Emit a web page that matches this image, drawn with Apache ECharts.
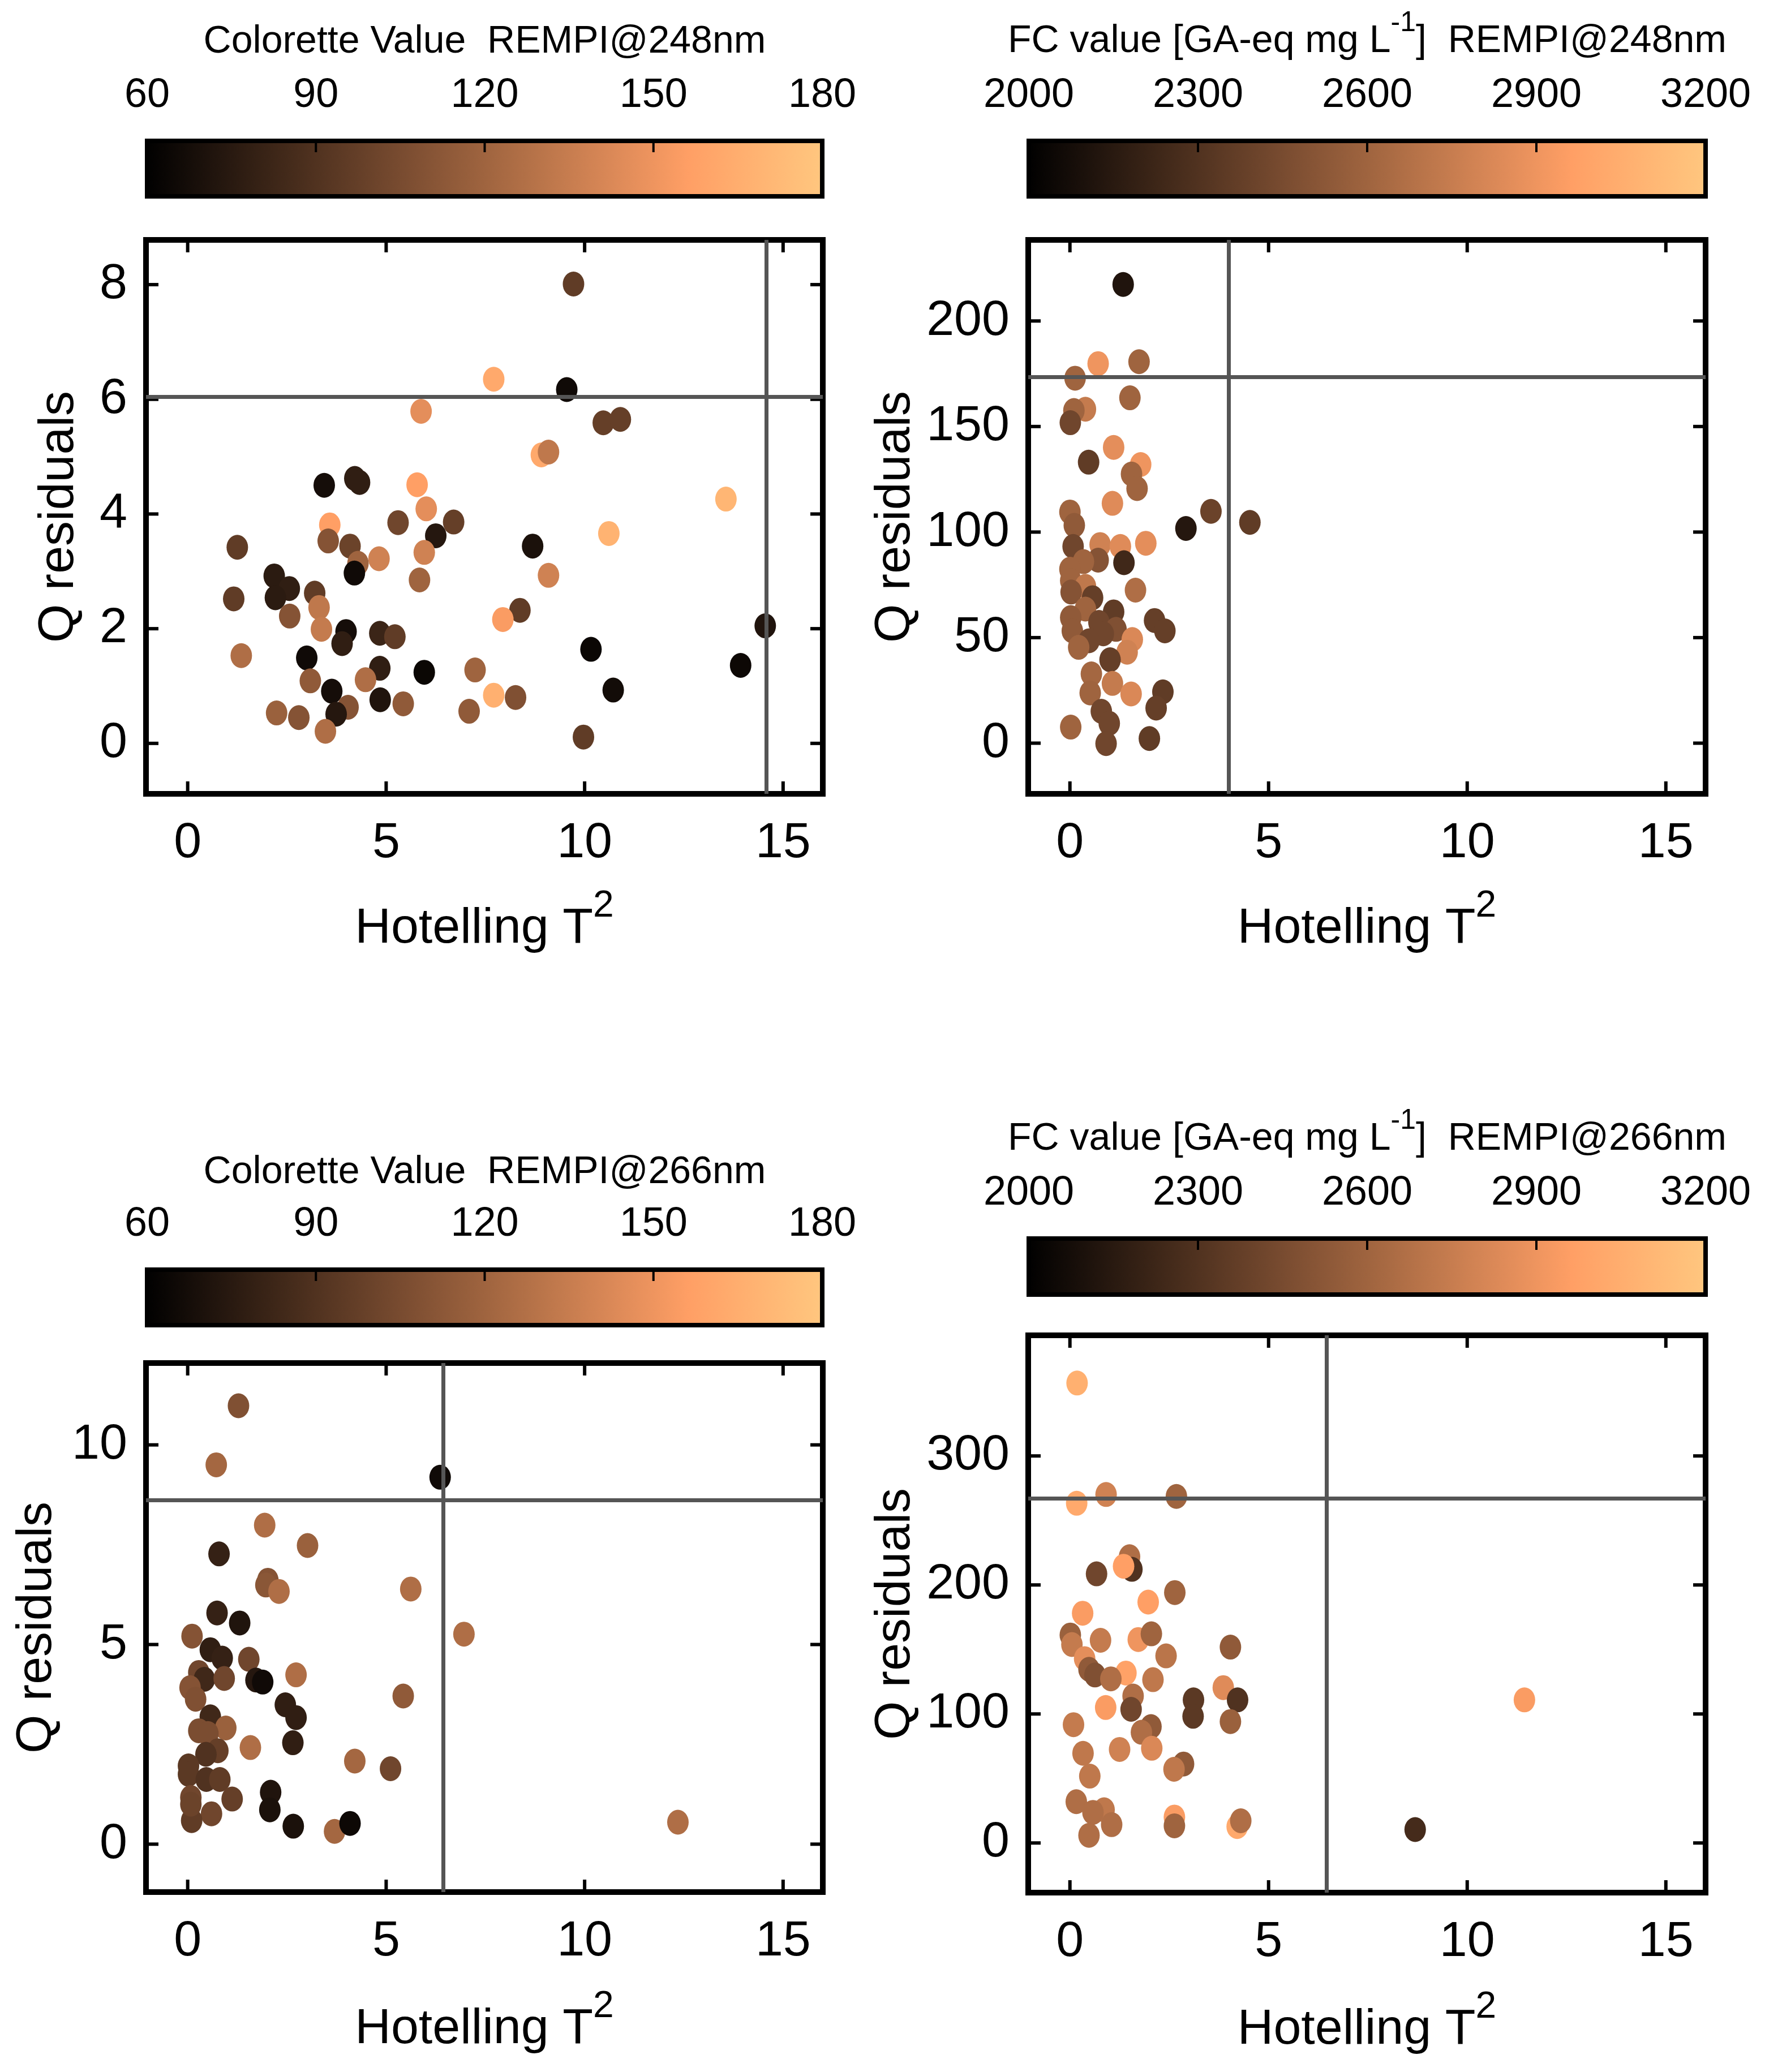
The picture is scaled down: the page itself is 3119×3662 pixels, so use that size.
<!DOCTYPE html>
<html>
<head>
<meta charset="utf-8">
<title>Hotelling T2 vs Q residuals</title>
<script src="https://cdn.jsdelivr.net/npm/echarts@6/dist/echarts.min.js"></script>
<style>
  html, body { margin: 0; padding: 0; background: #fff; }
  #main { width: 3119px; height: 3662px; }
</style>
</head>
<body>
<div id="main"></div>
<script>
// Colorette value, REMPI@248nm
const colT2_248 = [9.72, 7.71, 9.55, 5.88, 10.47, 10.9, 8.91, 9.09, 3.44, 4.21, 4.33, 5.78, 13.56, 6.01, 3.58, 5.3, 6.7, 6.25, 10.61, 1.25, 3.54, 4.09, 8.69, 5.96, 4.82, 4.29, 4.2, 9.09, 2.18, 2.56, 5.84, 1.16, 2.21, 3.2, 3.31, 2.57, 8.37, 7.94, 3.37, 3.99, 3.89, 4.84, 5.22, 14.55, 1.35, 3.0, 10.16, 13.93, 4.84, 5.96, 7.24, 3.09, 4.48, 3.63, 4.85, 7.71, 8.26, 10.72, 2.24, 2.8, 4.04, 3.74, 5.43, 7.09, 3.47, 9.97];
const colQ_248 = [8.01, 6.35, 6.17, 5.79, 5.59, 5.65, 5.03, 5.08, 4.5, 4.62, 4.55, 4.51, 4.26, 4.09, 3.81, 3.85, 3.86, 3.62, 3.66, 3.42, 3.53, 3.44, 3.44, 3.33, 3.22, 3.14, 2.97, 2.93, 2.92, 2.7, 2.85, 2.52, 2.54, 2.62, 2.37, 2.22, 2.32, 2.16, 1.99, 1.95, 1.74, 1.92, 1.86, 2.05, 1.53, 1.49, 1.64, 1.36, 1.31, 1.24, 1.28, 1.09, 1.11, 0.91, 0.76, 0.84, 0.8, 0.93, 0.53, 0.45, 0.63, 0.51, 0.69, 0.56, 0.21, 0.11];
const colVal_248 = [96, 162, 66, 146, 98, 98, 162, 132, 68, 78, 78, 156, 170, 146, 156, 102, 98, 74, 168, 96, 110, 100, 70, 138, 138, 120, 66, 138, 76, 78, 120, 96, 76, 96, 132, 110, 96, 154, 134, 68, 78, 82, 96, 72, 126, 66, 64, 65, 78, 64, 120, 114, 126, 68, 72, 166, 108, 67, 118, 110, 110, 74, 114, 114, 126, 96];

// FC value, REMPI@248nm
const fcT2_248 = [1.34, 0.71, 1.74, 0.13, 1.51, 0.39, 0.10, 0.01, 1.10, 0.47, 1.78, 1.55, 1.69, 1.07, 0.00, 3.55, 4.53, 0.11, 2.92, 1.91, 0.76, 1.27, 0.08, 0.71, 1.36, 0.34, 0.00, 0.02, 0.39, 1.65, 0.03, 0.57, 0.39, 1.10, 0.02, 0.73, 2.13, 1.16, 0.06, 2.39, 0.84, 1.57, 0.48, 0.22, 1.44, 1.01, 0.54, 1.07, 0.51, 1.54, 2.34, 0.79, 2.17, 0.99, 0.02, 0.91, 2.00];
const fcQ_248 = [217.3, 179.8, 180.7, 172.9, 163.6, 158.2, 157.6, 151.8, 140.1, 133.1, 132.0, 127.5, 120.6, 113.6, 109.5, 109.8, 104.6, 103.2, 101.7, 94.7, 94.1, 93.2, 93.2, 86.7, 85.5, 86.0, 82.4, 77.0, 74.3, 72.5, 71.6, 68.9, 63.5, 62.2, 59.5, 57.2, 58.1, 53.9, 53.2, 53.2, 51.8, 49.1, 48.5, 45.4, 43.1, 39.5, 32.8, 28.3, 23.8, 23.3, 24.3, 15.1, 16.6, 9.4, 7.6, -0.2, 2.2];
const fcVal_248 = [2120, 2900, 2600, 2600, 2600, 2740, 2600, 2420, 2860, 2360, 2900, 2600, 2600, 2840, 2600, 2400, 2360, 2540, 2140, 2860, 2780, 2840, 2420, 2500, 2240, 2600, 2600, 2600, 2720, 2660, 2500, 2380, 2600, 2360, 2540, 2420, 2380, 2480, 2540, 2380, 2420, 2820, 2420, 2600, 2780, 2380, 2620, 2740, 2600, 2820, 2360, 2420, 2380, 2420, 2600, 2420, 2360];

// Colorette value, REMPI@266nm
const colT2_266 = [1.28, 0.72, 6.36, 1.94, 3.02, 0.79, 2.02, 1.97, 2.30, 5.62, 0.74, 1.31, 0.11, 6.96, 0.57, 0.87, 1.54, 0.28, 0.42, 0.92, 1.72, 1.89, 2.73, 0.06, 0.20, 5.43, 2.46, 2.73, 0.57, 0.96, 0.28, 0.51, 2.65, 1.58, 0.76, 0.46, 4.21, 5.11, 0.02, 0.02, 0.47, 0.81, 2.09, 0.08, 1.12, 2.07, 0.60, 0.10, 2.66, 3.70, 4.09, 12.35, 0.08];
const colQ_266 = [10.98, 9.5, 9.19, 7.99, 7.48, 7.27, 6.61, 6.49, 6.33, 6.39, 5.79, 5.54, 5.21, 5.26, 4.87, 4.66, 4.63, 4.30, 4.13, 4.15, 4.11, 4.06, 4.24, 3.92, 3.63, 3.71, 3.49, 3.17, 3.19, 2.91, 2.84, 2.77, 2.54, 2.42, 2.34, 2.25, 2.08, 1.89, 1.96, 1.75, 1.62, 1.62, 1.30, 1.17, 1.13, 0.86, 0.76, 0.59, 0.45, 0.32, 0.52, 0.55, 1.0];
const colVal_266 = [108, 122, 66, 126, 118, 80, 110, 112, 126, 126, 80, 72, 110, 126, 78, 80, 102, 102, 84, 102, 74, 66, 126, 110, 108, 114, 78, 78, 84, 118, 106, 106, 78, 126, 98, 90, 122, 102, 94, 94, 90, 96, 72, 102, 98, 70, 102, 96, 70, 122, 65, 126, 100];

// FC value, REMPI@266nm
const fcT2_266 = [0.18, 0.17, 0.91, 2.68, 1.50, 1.56, 1.35, 0.67, 2.64, 1.97, 0.32, 0.01, 0.05, 0.77, 1.72, 2.05, 4.04, 2.42, 0.37, 0.48, 0.63, 1.41, 1.03, 2.09, 3.86, 1.59, 3.11, 4.22, 11.44, 0.90, 1.54, 3.10, 0.09, 4.04, 2.04, 1.80, 1.25, 2.06, 0.33, 2.86, 2.62, 0.50, 0.16, 0.86, 0.58, 2.63, 2.63, 1.05, 4.21, 4.30, 0.48, 8.69];
const fcQ_266 = [356.5, 263.3, 270.1, 268.6, 221.9, 212.1, 214.5, 208.6, 194.1, 186.7, 178.1, 161.2, 153.8, 157.1, 157.7, 162.1, 151.8, 145.0, 142.9, 134.6, 130.2, 131.7, 127.2, 126.6, 120.4, 113.9, 110.9, 110.9, 110.9, 105.0, 103.6, 98.2, 91.7, 94.1, 90.2, 85.8, 72.5, 73.4, 69.5, 61.2, 57.1, 51.8, 32.0, 25.7, 23.7, 20.1, 13.3, 14.2, 12.7, 17.2, 5.9, 10.4];
const fcVal_266 = [3060, 3020, 2780, 2600, 2660, 2300, 2960, 2420, 2600, 2960, 2940, 2580, 2740, 2740, 2900, 2600, 2540, 2700, 2860, 2540, 2480, 2980, 2660, 2720, 2840, 2660, 2340, 2300, 2940, 2940, 2420, 2340, 2740, 2580, 2540, 2660, 2780, 2820, 2720, 2540, 2720, 2720, 2660, 2720, 2660, 2940, 2600, 2660, 3020, 2660, 2660, 2260];

// limits (95% confidence lines) and ticks
const qLimit = [6.04, 173.5, 8.62, 267.2];
const t2Limit = [14.58, 3.99, 6.44, 6.46];
const t2Ticks = [0, 5, 10, 15];
const qTicks = [[0, 2, 4, 6, 8], [0, 50, 100, 150, 200], [0, 5, 10], [0, 100, 200, 300]];
const qRange = [[-0.88, 8.78], [-24, 238.4], [-1.2, 12.05], [-38.5, 393.5]];
const colBarTicks = [60, 90, 120, 150, 180];
const fcBarTicks = [2000, 2300, 2600, 2900, 3200];

const FONT = 'Liberation Sans';

// matlab copper colormap
function copper(t) {
  const r = Math.min(1, 1.25 * t), g = 0.7812 * t, b = 0.4975 * t;
  return 'rgb(' + Math.round(r * 255) + ',' + Math.round(g * 255) + ',' + Math.round(b * 255) + ')';
}
const copperColors = [];
const copperStops = [];
for (let i = 0; i <= 10; i++) {
  copperColors.push(copper(i / 10));
  copperStops.push({ offset: i / 10, color: copper(i / 10) });
}

const panels = [
  { t2: colT2_248, q: colQ_248, v: colVal_248, bar: colBarTicks,
    title: 'Colorette Value  REMPI@248nm',
    plot: { left: 258, top: 424, width: 1196, height: 979 },
    cbar: { left: 260, top: 249, width: 1193, height: 98 },
    yGap: 109, xGap: 166, tGap: 141 },
  { t2: fcT2_248, q: fcQ_248, v: fcVal_248, bar: fcBarTicks,
    title: 'FC value [GA-eq mg L{sup|-1}]  REMPI@248nm',
    plot: { left: 1817, top: 424, width: 1197, height: 979 },
    cbar: { left: 1818, top: 249, width: 1196, height: 98 },
    yGap: 190, xGap: 166, tGap: 119 },
  { t2: colT2_266, q: colQ_266, v: colVal_266, bar: colBarTicks,
    title: 'Colorette Value  REMPI@266nm',
    plot: { left: 258, top: 2409, width: 1196, height: 935 },
    cbar: { left: 260, top: 2244, width: 1193, height: 98 },
    yGap: 148, xGap: 170, tGap: 138 },
  { t2: fcT2_266, q: fcQ_266, v: fcVal_266, bar: fcBarTicks,
    title: 'FC value [GA-eq mg L{sup|-1}]  REMPI@266nm',
    plot: { left: 1817, top: 2360, width: 1197, height: 985 },
    cbar: { left: 1818, top: 2189, width: 1196, height: 99 },
    yGap: 190, xGap: 170, tGap: 119 }
];

const grid = [], xAxis = [], yAxis = [], series = [], visualMap = [];

const labelStyle = { color: '#000', fontFamily: FONT, fontSize: 88 };
const TICK_LEN = 22;

function frameLine() {
  return { show: true, onZero: false, lineStyle: { color: '#000', width: 10, cap: 'square' } };
}

// inward ticks on all four sides of a plot box, placed through the axes' own scales
function tickRenderer(params, api) {
  const cs = params.coordSys;
  const kind = api.value(0), v = api.value(1);
  if (kind === 0) {
    const x = api.coord([v, api.value(2)])[0];
    const yb = cs.y + cs.height, yt = cs.y;
    return { type: 'group', children: [
      { type: 'line', shape: { x1: x, y1: yb, x2: x, y2: yb - TICK_LEN }, style: { stroke: '#000', lineWidth: 6 } },
      { type: 'line', shape: { x1: x, y1: yt, x2: x, y2: yt + TICK_LEN }, style: { stroke: '#000', lineWidth: 6 } }
    ] };
  }
  const y = api.coord([api.value(2), v])[1];
  const xl = cs.x, xr = cs.x + cs.width;
  return { type: 'group', children: [
    { type: 'line', shape: { x1: xl, y1: y, x2: xl + TICK_LEN, y2: y }, style: { stroke: '#000', lineWidth: 6 } },
    { type: 'line', shape: { x1: xr, y1: y, x2: xr - TICK_LEN, y2: y }, style: { stroke: '#000', lineWidth: 6 } }
  ] };
}

panels.forEach(function (p, i) {
  const gPlot = grid.length;
  grid.push(Object.assign({ show: false }, p.plot));
  const gBar = grid.length;
  grid.push(Object.assign({ show: false }, p.cbar));

  const xMain = xAxis.length;
  xAxis.push({
    gridIndex: gPlot, type: 'value', min: -1.05, max: 16, position: 'bottom',
    axisLine: frameLine(), splitLine: { show: false }, axisTick: { show: false },
    axisLabel: Object.assign({ margin: 44, customValues: t2Ticks }, labelStyle),
    name: 'Hotelling T{sup|2}', nameLocation: 'middle', nameGap: p.xGap,
    nameTextStyle: Object.assign({
      rich: { sup: { fontFamily: FONT, fontSize: 66, color: '#000', padding: [0, 0, 80, 0] } }
    }, labelStyle)
  });
  xAxis.push({
    gridIndex: gPlot, type: 'value', min: -1.05, max: 16, position: 'top',
    axisLine: frameLine(), splitLine: { show: false }, axisLabel: { show: false }, axisTick: { show: false }
  });
  const yMain = yAxis.length;
  yAxis.push({
    gridIndex: gPlot, type: 'value', min: qRange[i][0], max: qRange[i][1], position: 'left',
    axisLine: frameLine(), splitLine: { show: false }, axisTick: { show: false },
    axisLabel: Object.assign({ margin: 33, customValues: qTicks[i] }, labelStyle),
    name: 'Q residuals', nameLocation: 'middle', nameGap: p.yGap,
    nameTextStyle: labelStyle
  });
  yAxis.push({
    gridIndex: gPlot, type: 'value', min: qRange[i][0], max: qRange[i][1], position: 'right',
    axisLine: frameLine(), splitLine: { show: false }, axisLabel: { show: false }, axisTick: { show: false }
  });

  const xBar = xAxis.length;
  const bMin = p.bar[0], bMax = p.bar[p.bar.length - 1];
  const barInner = p.bar.slice(1, -1);
  xAxis.push({
    gridIndex: gBar, type: 'value', min: bMin, max: bMax, position: 'top',
    axisLine: { show: false, onZero: false }, splitLine: { show: false }, axisTick: { show: false },
    axisLabel: {
      margin: 44, customValues: p.bar, color: '#000', fontFamily: FONT, fontSize: 72,
      formatter: function (v) { return String(v); }
    },
    name: p.title, nameLocation: 'middle', nameGap: p.tGap,
    nameTextStyle: {
      color: '#000', fontFamily: FONT, fontSize: 68,
      rich: { sup: { fontFamily: FONT, fontSize: 50, color: '#000', padding: [0, 0, 64, 0] } }
    }
  });
  const yBar = yAxis.length;
  yAxis.push({ gridIndex: gBar, type: 'value', min: 0, max: 1, show: false });

  const pts = p.t2.map(function (x, k) { return [x, p.q[k], p.v[k]]; });
  const sIdx = series.length;
  series.push({
    type: 'scatter', xAxisIndex: xMain, yAxisIndex: yMain,
    symbol: 'circle', symbolSize: [38, 44], data: pts,
    itemStyle: { opacity: 1 },
    markLine: {
      silent: true, symbol: 'none', label: { show: false },
      lineStyle: { color: '#555', width: 7, type: 'solid' },
      data: [{ xAxis: t2Limit[i] }, { yAxis: qLimit[i] }]
    }
  });
  visualMap.push({
    type: 'continuous', show: false, seriesIndex: sIdx, dimension: 2,
    min: bMin, max: bMax, inRange: { color: copperColors }
  });

  // tick marks for this plot box
  const yRef = qRange[i][0];
  const tickData = t2Ticks.map(function (v) { return [0, v, yRef]; })
    .concat(qTicks[i].map(function (v) { return [1, v, -1.05]; }));
  series.push({
    type: 'custom', xAxisIndex: xMain, yAxisIndex: yMain, z: 4, silent: true,
    data: tickData, encode: { x: 1, y: 2 }, renderItem: tickRenderer
  });

  // colour bar
  series.push({
    type: 'custom', xAxisIndex: xBar, yAxisIndex: yBar, silent: true,
    data: [[bMin, bMax]], encode: { x: [0, 1] },
    renderItem: function (params, api) {
      const a = api.coord([api.value(0), 0]);
      const b = api.coord([api.value(1), 1]);
      const kids = [{
        type: 'rect',
        shape: { x: a[0], y: b[1], width: b[0] - a[0], height: a[1] - b[1] },
        style: {
          fill: new echarts.graphic.LinearGradient(0, 0, 1, 0, copperStops),
          stroke: '#000', lineWidth: 8
        }
      }];
      barInner.forEach(function (t) {
        const x = api.coord([t, 1])[0];
        kids.push({ type: 'line', shape: { x1: x, y1: b[1], x2: x, y2: b[1] + 20 },
          style: { stroke: '#000', lineWidth: 4 } });
      });
      return { type: 'group', children: kids };
    }
  });
});

const chart = echarts.init(document.getElementById('main'));
chart.setOption({
  animation: false,
  backgroundColor: '#fff',
  textStyle: { fontFamily: FONT },
  grid: grid,
  xAxis: xAxis,
  yAxis: yAxis,
  visualMap: visualMap,
  series: series
});
</script>
</body>
</html>
